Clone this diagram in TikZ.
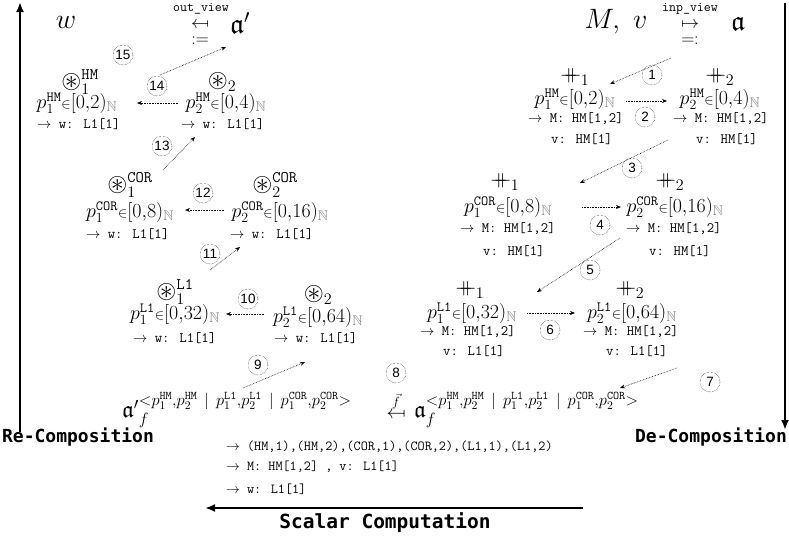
\RequirePackage{fix-cm}
\documentclass[tikz,border=0pt]{standalone}
\usepackage{amsmath,amssymb}
\usepackage{fontspec}
\usepackage{graphicx}
\usetikzlibrary{arrows.meta}
\newfontfamily\labelfont{DejaVu Sans Mono}
\newfontfamily\numfont{Liberation Sans}
\newcommand{\dplus}{\mathord{\text{\fontsize{23}{23}\selectfont$+\mkern-10mu+$}}}
\newcommand{\cast}{\mathord{\text{\scalebox{1.12}{$\circledast$}}}}
\newcommand{\toarr}{$\rightarrow$\ }
\newcommand{\mapsleft}{\mathrel{\text{\reflectbox{$\mapsto$}}}}
\newcommand{\pval}[3]{$p_{#1}^{\texttt{#2}}{\scriptstyle\in}[0{,}#3)_{\textcolor{gray}{\mathbb{N}}}$}
\newcommand{\tup}{\mathord{<}p_1^{\texttt{HM}}{,}p_2^{\texttt{HM}}\ \mid\ p_1^{\texttt{L1}}{,}p_2^{\texttt{L1}}\ \mid\ p_1^{\texttt{COR}}{,}p_2^{\texttt{COR}}\mathord{>}}
\tikzset{
  sym/.style={inner sep=0pt, font=\fontsize{23}{27}\selectfont},
  big/.style={inner sep=0pt, font=\fontsize{28}{32}\selectfont},
  form/.style={inner sep=0pt, font=\fontsize{23.5}{27}\selectfont},
  pv/.style={inner sep=0pt, font=\fontsize{20}{23}\selectfont},
  tt/.style={inner sep=0pt, anchor=west, font=\ttfamily\fontsize{14.3}{17}\selectfont},
  ttb/.style={inner sep=0pt, anchor=west, font=\ttfamily\fontsize{13.8}{16}\selectfont},
  numc/.style={circle, draw, densely dotted, inner sep=0pt, minimum size=20pt,
    font=\numfont\fontsize{13.5}{15}\selectfont},
  flow/.style={densely dotted, line width=0.6pt, -{Stealth[length=5pt,width=4pt]}},
  phase/.style={line width=2.2pt, -{Latex[length=10pt,width=8pt]}},
  phaselabel/.style={inner sep=0pt, font=\labelfont\bfseries\fontsize{18}{21}\selectfont}
}
\begin{document}
\begin{tikzpicture}[x=1pt,y=-1pt]
\useasboundingbox (0,0) rectangle (789,538);

% ---------- phase arrows and labels ----------
\coordinate (recS) at (20,432);
\coordinate (recE) at (20,2);
\coordinate (decS) at (785,3);
\coordinate (decE) at (785,430);
\coordinate (scS) at (583,508);
\coordinate (scE) at (205,508);
\draw[phase] (recS) -- (recE);
\draw[phase] (decS) -- (decE);
\draw[phase] (scS) -- (scE);
\node[phaselabel] (rec) at (78,437) {Re-Composition};
\node[phaselabel] (dec) at (711,437) {De-Composition};
\node[phaselabel, font=\labelfont\bfseries\fontsize{19.5}{22}\selectfont] (sc) at (385,523) {Scalar Computation};

% ---------- output view (top left) ----------
\node[big] (w) at (66,22) {$w$};
\node[inner sep=0pt, font=\ttfamily\fontsize{13.5}{16}\selectfont] (ov) at (201,9) {out\_view};
\node[inner sep=0pt, font=\fontsize{18}{20}\selectfont] (ova) at (200,25) {$\mapsleft$};
\node[inner sep=0pt, font=\fontsize{18}{20}\selectfont] (ovd) at (200,41) {$:=$};
\node[big] (ap) at (240,23) {$\mathfrak{a}'$};

% ---------- input view (top right) ----------
\node[big] (mv) at (616,22) {$M,\ v$};
\node[inner sep=0pt, font=\ttfamily\fontsize{13.5}{16}\selectfont] (iv) at (690,9) {inp\_view};
\node[inner sep=0pt, font=\fontsize{18}{20}\selectfont] (iva) at (690,25) {$\mapsto$};
\node[inner sep=0pt, font=\fontsize{18}{20}\selectfont] (ivd) at (690,41) {$=:$};
\node[big] (a) at (738,24) {$\mathfrak{a}$};

% ---------- re-composition, HM level ----------
\node[sym] (rh1) at (80,82) {$\cast^{\texttt{HM}}_{1}$};
\node[pv] (rh1p) at (77,103) {\pval{1}{HM}{2}};
\node[tt] (rh1w) at (37,124) {\toarr w: L1[1]};
\node[sym] (rh2) at (222,82) {$\cast_{2}$};
\node[pv] (rh2p) at (226,103) {\pval{2}{HM}{4}};
\node[tt] (rh2w) at (181,124) {\toarr w: L1[1]};

% ---------- re-composition, COR level ----------
\node[sym] (rc1) at (130,185) {$\cast^{\texttt{COR}}_{1}$};
\node[pv] (rc1p) at (130,212) {\pval{1}{COR}{8}};
\node[tt] (rc1w) at (86,234) {\toarr w: L1[1]};
\node[sym] (rc2) at (275,185) {$\cast^{\texttt{COR}}_{2}$};
\node[pv] (rc2p) at (280,212) {\pval{2}{COR}{16}};
\node[tt] (rc2w) at (230,234) {\toarr w: L1[1]};

% ---------- re-composition, L1 level ----------
\node[sym] (rl1) at (175,292) {$\cast^{\texttt{L1}}_{1}$};
\node[pv] (rl1p) at (175,314) {\pval{1}{L1}{32}};
\node[tt] (rl1w) at (133,338) {\toarr w: L1[1]};
\node[sym] (rl2) at (318,295) {$\cast_{2}$};
\node[pv] (rl2p) at (318,317) {\pval{2}{L1}{64}};
\node[tt] (rl2w) at (274,338) {\toarr w: L1[1]};

% ---------- de-composition, HM level ----------
\node[sym] (dh1) at (575,77) {$\dplus_{1}$};
\node[pv] (dh1p) at (575,99) {\pval{1}{HM}{2}};
\node[tt] (dh1m) at (528,119) {\toarr M: HM[1,2]};
\node[tt] (dh1v) at (551,139) {v: HM[1]};
\node[sym] (dh2) at (720,77) {$\dplus_{2}$};
\node[pv] (dh2p) at (720,99) {\pval{2}{HM}{4}};
\node[tt] (dh2m) at (673,119) {\toarr M: HM[1,2]};
\node[tt] (dh2v) at (696,139) {v: HM[1]};

% ---------- de-composition, COR level ----------
\node[sym] (dc1) at (505,182) {$\dplus_{1}$};
\node[pv] (dc1p) at (508,207) {\pval{1}{COR}{8}};
\node[tt] (dc1m) at (460,229) {\toarr M: HM[1,2]};
\node[tt] (dc1v) at (483,251) {v: HM[1]};
\node[sym] (dc2) at (670,182) {$\dplus_{2}$};
\node[pv] (dc2p) at (675,207) {\pval{2}{COR}{16}};
\node[tt] (dc2m) at (626,229) {\toarr M: HM[1,2]};
\node[tt] (dc2v) at (649,251) {v: HM[1]};

% ---------- de-composition, L1 level ----------
\node[sym] (dl1) at (470,290) {$\dplus_{1}$};
\node[pv] (dl1p) at (472,313) {\pval{1}{L1}{32}};
\node[tt] (dl1m) at (420,332) {\toarr M: HM[1,2]};
\node[tt] (dl1v) at (443,351) {v: L1[1]};
\node[sym] (dl2) at (630,290) {$\dplus_{2}$};
\node[pv] (dl2p) at (632,313) {\pval{2}{L1}{64}};
\node[tt] (dl2m) at (583,332) {\toarr M: HM[1,2]};
\node[tt] (dl2v) at (606,351) {v: L1[1]};

% ---------- scalar computation ----------
\node[form, anchor=west] (afo) at (122,410) {${\mathfrak{a}'}^{\tup}_{f}$};
\node[inner sep=0pt, font=\fontsize{19}{22}\selectfont] (fmap) at (396,405) {$\overset{\vec{f}}{\mapsleft}$};
\node[form, anchor=west] (afi) at (414,410) {${\mathfrak{a}}^{\tup}_{f}$};
\node[ttb] (sc1) at (226,447) {\toarr (HM,1),(HM,2),(COR,1),(COR,2),(L1,1),(L1,2)};
\node[ttb] (sc2) at (226,467) {\toarr M: HM[1,2] , v: L1[1]};
\node[ttb] (sc3) at (226,489) {\toarr w: L1[1]};

% ---------- step numbers ----------
\node[numc] (n1) at (652,75) {1};
\node[numc] (n2) at (645,117) {2};
\node[numc] (n3) at (632,168) {3};
\node[numc] (n4) at (600,225) {4};
\node[numc] (n5) at (590,270) {5};
\node[numc] (n6) at (550,330) {6};
\node[numc] (n7) at (710,382) {7};
\node[numc] (n8) at (396,373) {8};
\node[numc] (n9) at (258,365) {9};
\node[numc] (n10) at (248,299) {10};
\node[numc] (n11) at (210,254) {11};
\node[numc] (n12) at (203,193) {12};
\node[numc] (n13) at (162,146) {13};
\node[numc] (n14) at (157,86) {14};
\node[numc] (n15) at (123,55) {15};

% ---------- step arrows ----------
\coordinate (s1a) at (671,58);  \coordinate (s1b) at (610,84);
\coordinate (s2a) at (626,101); \coordinate (s2b) at (667,101);
\coordinate (s3a) at (668,140); \coordinate (s3b) at (580,183);
\coordinate (s4a) at (582,207); \coordinate (s4b) at (621,207);
\coordinate (s5a) at (620,238); \coordinate (s5b) at (537,292);
\coordinate (s6a) at (527,313); \coordinate (s6b) at (575,313);
\coordinate (s7a) at (677,368); \coordinate (s7b) at (620,388);
\coordinate (s9a) at (243,388); \coordinate (s9b) at (305,362);
\coordinate (s10a) at (264,314); \coordinate (s10b) at (226,314);
\coordinate (s11a) at (210,270); \coordinate (s11b) at (240,247);
\coordinate (s12a) at (224,210); \coordinate (s12b) at (185,210);
\coordinate (s13a) at (163,170); \coordinate (s13b) at (195,137);
\coordinate (s14a) at (178,103); \coordinate (s14b) at (137,103);
\coordinate (s15a) at (160,75);  \coordinate (s15b) at (226,47);
\foreach \s in {1,2,3,4,5,6,7,9,10,11,12,13,14,15}
  \draw[flow] (s\s a) -- (s\s b);
\end{tikzpicture}
\end{document}
